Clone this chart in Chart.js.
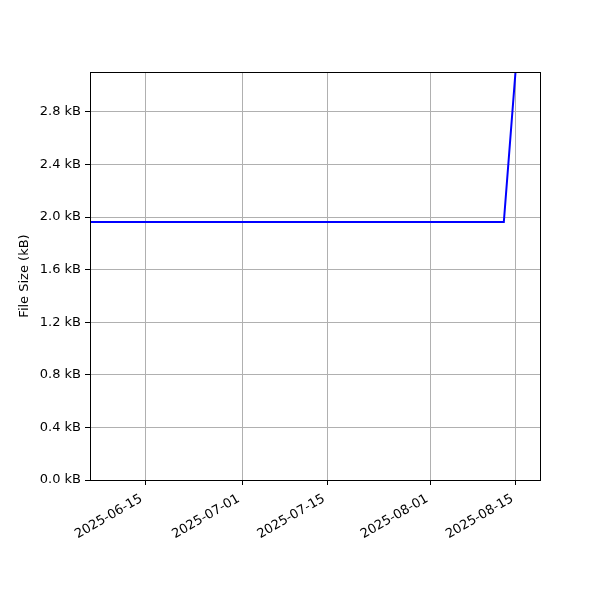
<!DOCTYPE html>
<html><head><meta charset="utf-8">
<script src="https://cdn.jsdelivr.net/npm/chart.js@4"></script>
<style>html,body{margin:0;padding:0;background:#fff}#wrap{width:600px;height:600px}</style>
</head><body><div id="wrap"><canvas id="c" width="600" height="600"></canvas></div>
<script>
const dates = ["2025-06-06", "2025-08-13", "2025-08-15"];
const sizesKB = [1.962, 1.962, 3.15];
const xTickDates = ["2025-06-15", "2025-07-01", "2025-07-15", "2025-08-01", "2025-08-15"];
const yTicks = [0.0, 0.4, 0.8, 1.2, 1.6, 2.0, 2.4, 2.8];
const xRange = ["2025-06-05", "2025-08-19"];

const DAY = 86400000;
const toDay = s => Date.parse(s + "T00:00:00Z") / DAY;
const fromDay = d => new Date(Math.round(d) * DAY).toISOString().slice(0, 10);

const points = dates.map((d, i) => ({x: toDay(d), y: sizesKB[i]}));
const font = {family: "DejaVu Sans", size: 13};

const frame = {
  id: 'frame',
  afterDraw(chart) {
    const a = chart.chartArea, ctx = chart.ctx;
    ctx.save();
    ctx.strokeStyle = '#000';
    ctx.lineWidth = 1;
    ctx.strokeRect(Math.round(a.left) + 0.5, Math.round(a.top) + 0.5, Math.round(a.right - a.left), Math.round(a.bottom - a.top));
    ctx.restore();
  }
};

new Chart(document.getElementById('c'), {
  type: 'line',
  data: {datasets: [{data: points, borderColor: '#0000ff', borderWidth: 2, pointRadius: 0, tension: 0, fill: false}]},
  options: {
    responsive: false, animation: false,
    layout: {padding: {top: 72, right: 60, left: 0, bottom: 0}},
    plugins: {legend: {display: false}, tooltip: {enabled: false}},
    scales: {
      x: {
        type: 'linear',
        min: toDay(xRange[0]) + 0.95, max: toDay(xRange[1]) - 0.05,
        afterBuildTicks: s => { s.ticks = xTickDates.map(d => ({value: toDay(d)})); },
        afterFit: s => { s.height = 120; },
        grid: {color: '#b0b0b0', lineWidth: 1, tickColor: '#000', tickLength: 5, drawTicks: true},
        border: {color: '#000', width: 1},
        ticks: {callback: v => fromDay(v) + ' ', color: '#000', font, minRotation: 30, maxRotation: 30, padding: 4, autoSkip: false}
      },
      y: {
        min: 0, max: 3.103,
        afterBuildTicks: s => { s.ticks = yTicks.map(v => ({value: v})); },
        afterFit: s => { s.width = 90; },
        grid: {color: '#b0b0b0', lineWidth: 1, tickColor: '#000', tickLength: 5, drawTicks: true},
        border: {color: '#000', width: 1},
        ticks: {callback: v => v.toFixed(1) + ' kB', color: '#000', font, padding: 4},
        title: {display: true, text: 'File Size (kB)', color: '#000', font, padding: {top: 17, bottom: 4}}
      }
    }
  },
  plugins: [frame]
});
</script></body></html>
